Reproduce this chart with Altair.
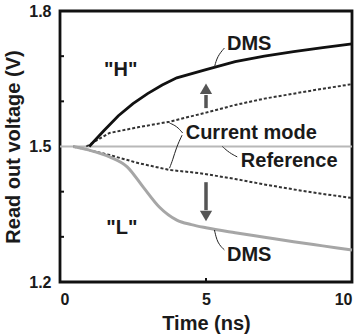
import altair as alt
import pandas as pd

# ---- data ----
dms_h_t = [1.0, 1.5, 2.0, 2.5, 3.0, 3.5, 4.0, 5.0, 6.0, 7.0, 8.0, 9.0, 10.0]
dms_h_v = [1.500, 1.535, 1.568, 1.595, 1.617, 1.636, 1.652, 1.670, 1.688, 1.700, 1.710, 1.719, 1.727]

cur_h_t = [0.9, 1.7, 2.7, 3.75, 5.0, 6.0, 7.0, 8.0, 9.0, 10.0]
cur_h_v = [1.500, 1.530, 1.543, 1.555, 1.575, 1.592, 1.606, 1.617, 1.628, 1.638]

ref_t = [0.0, 10.0]
ref_v = [1.5, 1.5]

cur_l_t = [0.45, 1.0, 1.7, 2.7, 3.75, 4.8, 6.0, 7.0, 8.0, 9.0, 10.0]
cur_l_v = [1.500, 1.492, 1.481, 1.463, 1.448, 1.441, 1.428, 1.416, 1.405, 1.395, 1.386]

dms_l_t = [0.45, 1.0, 1.7, 2.3, 2.85, 3.4, 4.0, 4.5, 5.0, 6.0, 7.0, 8.0, 9.0, 10.0]
dms_l_v = [1.500, 1.492, 1.477, 1.455, 1.410, 1.366, 1.337, 1.327, 1.320, 1.309, 1.299, 1.289, 1.280, 1.271]

# annotation texts and anchor points (data units)
label_text = ['"H"', '"L"', "DMS", "Current mode", "Reference", "DMS"]
label_t = [2.08, 2.12, 6.48, 6.55, 7.85, 6.48]
label_v = [1.669, 1.320, 1.727, 1.530, 1.468, 1.260]

# leader lines: id, t, v
lead_id = ["a", "a", "a", "b", "b", "b", "c", "c", "c", "c", "d", "d", "d", "e", "e", "e"]
lead_t = [5.63, 5.39, 5.29, 4.20, 4.00, 3.75, 4.18, 3.99, 3.86, 3.75, 5.56, 5.80, 6.07, 5.29, 5.39, 5.63]
lead_v = [1.718, 1.700, 1.676, 1.530, 1.545, 1.552, 1.525, 1.499, 1.470, 1.452, 1.500, 1.486, 1.477, 1.315, 1.286, 1.271]

# arrows: shaft start/end, head position
arrow_t = [5.0, 5.0]
arrow_v0 = [1.585, 1.421]
arrow_v1 = [1.614, 1.359]
head_v = [1.628, 1.346]
head_shape = ["triangle-up", "triangle-down"]

ytick_minor = [1.3, 1.4, 1.6, 1.7]
xtick_minor = [5]

FONT = "Liberation Sans"

def series(name, ts, vs):
    return pd.DataFrame({"t": ts, "v": vs, "s": name})

lines_df = pd.concat([
    series("dms_h", dms_h_t, dms_h_v),
    series("cur_h", cur_h_t, cur_h_v),
    series("ref", ref_t, ref_v),
    series("cur_l", cur_l_t, cur_l_v),
    series("dms_l", dms_l_t, dms_l_v),
])

xs = alt.Scale(domain=[0, 10], nice=False)
ys = alt.Scale(domain=[1.2, 1.8], nice=False)

X = alt.X("t:Q", scale=xs,
          axis=alt.Axis(values=[0, 5, 10], title="Time (ns)", domain=False, ticks=False,
                        grid=False, labelFlush=True, labelPadding=9, titlePadding=6))
Y = alt.Y("v:Q", scale=ys,
          axis=alt.Axis(values=[1.2, 1.5, 1.8], title="Read out voltage (V)", domain=False,
                        ticks=False, grid=False, labelPadding=9, titlePadding=5, format=".1f"))

base = alt.Chart(lines_df)

def line_layer(name, **kw):
    return base.transform_filter(alt.datum.s == name).mark_line(**kw).encode(
        x=X, y=Y, order="t:Q")

ref_l = line_layer("ref", color="#b8b8b8", strokeWidth=2)
dms_h = line_layer("dms_h", color="#111111", strokeWidth=2.8)
cur_h = line_layer("cur_h", color="#333333", strokeWidth=2, strokeDash=[3, 2])
cur_l = line_layer("cur_l", color="#333333", strokeWidth=2, strokeDash=[3, 2])
dms_l = line_layer("dms_l", color="#a6a6a6", strokeWidth=3, interpolate="monotone")

lead_df = pd.DataFrame({"id": lead_id, "t": lead_t, "v": lead_v, "o": list(range(len(lead_id)))})
leaders = alt.Chart(lead_df).mark_line(color="#222222", strokeWidth=1, interpolate="basis").encode(
    x="t:Q", y="v:Q", detail="id:N", order="o:Q")

lab_df = pd.DataFrame({"txt": label_text, "t": label_t, "v": label_v})
labels = alt.Chart(lab_df).mark_text(font=FONT, fontWeight="bold", fontSize=20,
                                     color="#1a1a1a", align="center", baseline="middle").encode(
    x="t:Q", y="v:Q", text="txt:N")

arr_df = pd.DataFrame({"t": arrow_t, "v0": arrow_v0, "v1": arrow_v1, "h": head_v, "shape": head_shape})
shafts = alt.Chart(arr_df).mark_rule(color="#555555", strokeWidth=3.5).encode(
    x="t:Q", y="v0:Q", y2="v1:Q")
heads = alt.Chart(arr_df).mark_point(filled=True, color="#555555", opacity=1, size=150).encode(
    x="t:Q", y="h:Q", shape=alt.Shape("shape:N", scale=None))

yt_df = pd.DataFrame({"v": ytick_minor})
yticks = alt.Chart(yt_df).mark_rule(color="#111111", strokeWidth=2).encode(
    y="v:Q", x=alt.value(0), x2=alt.value(4))
xt_df = pd.DataFrame({"t": xtick_minor})
xticks = alt.Chart(xt_df).mark_rule(color="#111111", strokeWidth=2).encode(
    x="t:Q", y=alt.value(271), y2=alt.value(267))

chart = alt.layer(
    ref_l, cur_h, cur_l, dms_l, dms_h, leaders, shafts, heads, labels, yticks, xticks
).properties(
    width=292, height=271,
    padding={"left": 60, "top": 11, "right": 8, "bottom": 52},
    autosize=alt.AutoSizeParams(type="none"),
    background="white",
).configure_view(
    stroke="#111111", strokeWidth=2.8
).configure_axis(
    labelFont=FONT, labelFontWeight="bold", labelFontSize=16, labelColor="#1a1a1a",
    titleFont=FONT, titleFontWeight="bold", titleFontSize=20, titleColor="#1a1a1a",
)

chart.save("out.html", embed_options={"renderer": "svg", "actions": False})
